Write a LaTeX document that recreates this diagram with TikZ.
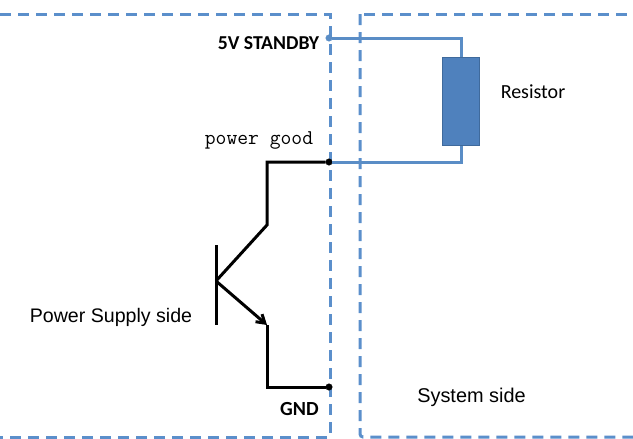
\documentclass[tikz,border=0pt]{standalone}
\usepackage{fontspec}
\setmainfont{Liberation Sans}
\newfontfamily\labelfont{Carlito}
\usetikzlibrary{calc,positioning,arrows.meta}
\definecolor{sideblue}{HTML}{5B8FCB}
\definecolor{wireblue}{HTML}{5A8DC6}
\definecolor{resfill}{HTML}{4F81BD}
\definecolor{resline}{HTML}{3F6A9C}
\tikzset{
  sideline/.style={draw=sideblue, line width=3pt, dash pattern=on 11pt off 7pt},
  wire/.style={draw=wireblue, line width=3pt},
  blackwire/.style={draw=black, line width=3pt},
  conn/.style={draw, circle, inner sep=0, minimum size=6.5pt}
}
\begin{document}
\begin{tikzpicture}[x=1pt, y=-1pt]
    \useasboundingbox (0,0) rectangle (633,439);

    \coordinate (left_top_start) at (0,14);
    \coordinate (left_top_corner) at (330,14);
    \coordinate (left_bottom_corner) at (330,437);
    \coordinate (left_bottom_end) at (0,437);
    \coordinate (right_top_corner) at (360,14);
    \coordinate (right_top_start) at (364,14);
    \coordinate (right_top_end) at (633,14);
    \coordinate (right_bottom_corner) at (360,437);
    \coordinate (right_bottom_end) at (633,437);

    \draw[sideline] (left_top_start) -- (left_top_corner) -- (left_bottom_corner) -- (left_bottom_end);
    \draw[sideline] (right_top_start) -- (right_top_end);
    \draw[sideline, rounded corners=3pt] (right_top_corner) -- (right_bottom_corner) -- (right_bottom_end);

    \node [draw=resline, fill=resfill, line width=1.8pt, minimum width=37pt, minimum height=88pt, inner sep=0] (resistor) at (461,101.5) {};

    \node [conn, draw=wireblue, fill=wireblue] (standby_dot) at (329,38) {};
    \node [conn, draw=black, fill=black] (good_dot) at (329,162) {};
    \node [conn, draw=black, fill=black] (gnd_dot) at (329,387) {};

    \coordinate (standby_turn) at (461,38);
    \coordinate (good_turn) at (461,162);
    \draw[wire] (standby_dot) -- (standby_turn) -- (resistor.north);
    \draw[wire] (good_dot) -- (good_turn) -- (resistor.south);

    \coordinate (collector_turn) at (267,162);
    \coordinate (collector_end) at (267,225);
    \coordinate (base_top) at (216,245);
    \coordinate (base_mid) at (216,281);
    \coordinate (base_bottom) at (216,325);
    \coordinate (emitter_end) at (267,325);
    \coordinate (gnd_turn) at (267,387);

    \draw[blackwire] (good_dot) -- (collector_turn) -- (collector_end) -- (base_mid);
    \draw[blackwire] (base_top) -- (base_bottom);
    \draw[blackwire, -{Straight Barb[length=8pt,width=10pt]}] (base_mid) -- (emitter_end);
    \draw[blackwire] (emitter_end) -- (gnd_turn) -- (gnd_dot);

    \node [anchor=base, font=\labelfont\bfseries\fontsize{19.7}{22}\selectfont] (standby_label) at (268.5,49) {5V STANDBY};
    \node [anchor=base, font=\ttfamily\fontsize{21}{23}\selectfont] (good_label) at (259,144) {power good};
    \node [anchor=base, font=\labelfont\bfseries\fontsize{20}{22}\selectfont] (gnd_label) at (299.5,415) {GND};
    \node [anchor=base, font=\labelfont\fontsize{20}{22}\selectfont] (resistor_label) at (533,98) {Resistor};
    \node [anchor=base, font=\fontsize{19.6}{22}\selectfont] (supply_label) at (111,322) {Power Supply side};
    \node [anchor=base, font=\fontsize{19.9}{22}\selectfont] (system_label) at (471.5,402) {System side};
\end{tikzpicture}
\end{document}
